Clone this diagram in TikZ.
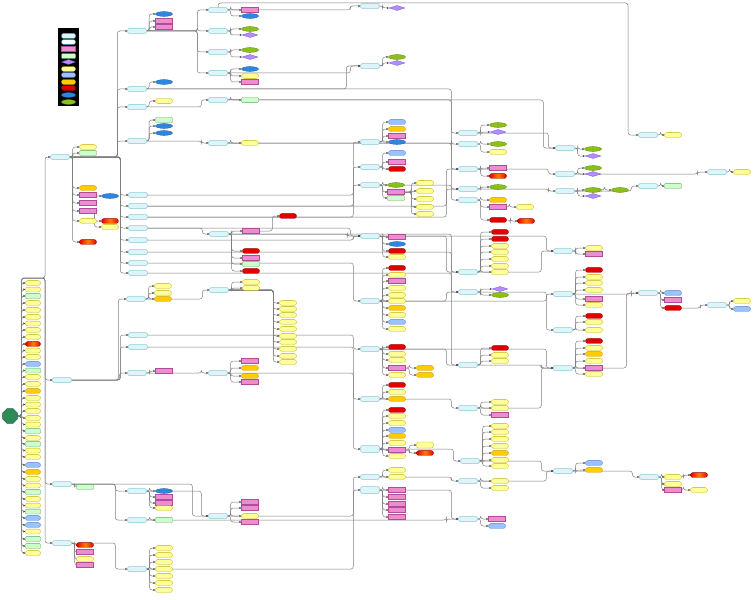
\documentclass[tikz,border=0pt]{standalone}
\usetikzlibrary{arrows.meta,shapes.geometric}
\definecolor{catfill}{HTML}{DDF5F8}
\definecolor{catline}{HTML}{3A9FB0}
\definecolor{yfill}{HTML}{FFFF99}
\definecolor{yline}{HTML}{C2B000}
\definecolor{gfill}{HTML}{CCFFCC}
\definecolor{gline}{HTML}{5FA85F}
\definecolor{pfill}{HTML}{EE8CD0}
\definecolor{pline}{HTML}{B04C98}
\definecolor{bfill}{HTML}{99C2FF}
\definecolor{bline}{HTML}{4C7FCC}
\definecolor{ofill}{HTML}{FFCC00}
\definecolor{oline}{HTML}{C89A00}
\definecolor{rfill}{HTML}{E00000}
\definecolor{rline}{HTML}{A00000}
\definecolor{ebfill}{HTML}{2E86DE}
\definecolor{ebline}{HTML}{1A5DA6}
\definecolor{egfill}{HTML}{8CBF1A}
\definecolor{egline}{HTML}{5A8A00}
\definecolor{pufill}{HTML}{B48CFF}
\definecolor{puline}{HTML}{7A55C8}
\definecolor{rootfill}{HTML}{2E8B57}
\definecolor{wire}{HTML}{7E7E7E}
\pgfdeclarelayer{bg}
\pgfsetlayers{bg,main}
% children of a node, stacked in one column (links drawn later)
\def\allkids{}
\newcommand{\kids}[4]{%
  \foreach \yy/\st [count=\k] in {#3}{%
    \node[\st] (#1-\k) at (#2,\yy) {};
    \xdef\kidn{\k}%
  }%
  \ifx\allkids\empty\xdef\allkids{#1/#4/\kidn}\else\xdef\allkids{\allkids,#1/#4/\kidn}\fi}
% long link between two nodes
\newcommand{\conn}[3][7]{%
  \draw[link] (#2.east) -| ([xshift=-#1pt]#3.west) -- (#3.west);}
\begin{document}
\begin{tikzpicture}[x=1pt, y=-1pt,
  base/.style={draw, line width=0.3pt, inner sep=0pt, minimum width=17pt, minimum height=4.8pt},
  cat/.style={base, rounded corners=1.5pt, fill=catfill, draw=catline, minimum width=19pt, minimum height=5pt},
  yl/.style={base, rounded corners=2.2pt, fill=yfill, draw=yline},
  gl/.style={base, rounded corners=0.8pt, fill=gfill, draw=gline},
  pk/.style={base, fill=pfill, draw=pline},
  lb/.style={base, rounded corners=2.2pt, fill=bfill, draw=bline},
  ol/.style={base, rounded corners=2.2pt, fill=ofill, draw=oline},
  rd/.style={base, rounded corners=2.2pt, fill=rfill, draw=rline},
  gr/.style={base, rounded corners=2.2pt, draw=rline, left color=rfill, right color=rfill, middle color=orange},
  eb/.style={base, ellipse, fill=ebfill, draw=ebline},
  eg/.style={base, ellipse, fill=egfill, draw=egline},
  pu/.style={base, diamond, aspect=4, fill=pufill, draw=puline, minimum width=16pt, minimum height=5pt},
  wt/.style={base, rounded corners=2.2pt, fill=white, draw=catline},
  root/.style={regular polygon, regular polygon sides=8, minimum size=16pt, inner sep=0pt, fill=rootfill, draw=rootfill!70!black},
  link/.style={draw=wire, line width=0.5pt, rounded corners=2.5pt, -{Stealth[length=2.2pt,width=2pt,color=black!75]}},
]
\useasboundingbox (0,0) rectangle (754,599);

% legend
\node[fill=black, minimum width=21pt, minimum height=78pt, inner sep=0pt] (legend) at (68.5,67) {};
\foreach \yy/\st in {36/cat,42/wt,49/pk,56/gl,62/pu,69/yl,75/lb,82/ol,88/rd,95/eb,102/eg}
  \node[\st, minimum width=14pt] (key-\yy) at (68.5,\yy) {};

% root and its own leaves
\node[root] (R) at (10,416) {};
\foreach \yy/\st [count=\k] in {283/yl,289.5/yl,296/gl,303/yl,310/yl,317/yl,323.5/yl,330/yl,337/yl,344/gr,350.5/yl,357/yl,364/lb,370.5/gl,377/yl,384/yl,391/ol,398/yl,404.5/yl,411/yl,418/yl,424.5/yl,431/gl,438/yl,444/gl,450.5/yl,457/yl,465/lb,472/ol,479/yl,485.5/yl,492/gl,499/yl,505.5/yl,511.5/gl,518/lb,525/lb,531.5/yl,539/gl,546/gl,553/yl}
  \node[\st, minimum width=15pt] (L\k) at (33,\yy) {};

% main branches
\node[cat] (C1) at (60,157) {};
\node[cat] (C2) at (62,380) {};
\node[cat] (C3) at (62,484) {};
\node[cat] (C4) at (62,543) {};

% second level
\node[cat] (A1) at (137,31) {};
\node[cat] (A2) at (137,89) {};
\node[cat] (A3) at (137,107) {};
\node[cat] (A4) at (137,141) {};
\foreach \yy [count=\k] in {195,206,217,228,240,252,263,273}
  \node[cat] (M\k) at (138,\yy) {};
\node[cat] (M9) at (136,299) {};
\node[cat] (M10) at (138,335) {};
\node[cat] (M11) at (138,347) {};
\node[cat] (M12) at (137,373) {};
\node[cat] (H1) at (137,491) {};
\node[cat] (H2) at (137,520) {};
\node[cat] (H3) at (137,569) {};

% third level
\node[cat] (B1) at (218,10) {};
\node[cat] (B2) at (218,31) {};
\node[cat] (B3) at (218,52) {};
\node[cat] (B4) at (218,73) {};
\node[cat] (B5) at (218,100) {};
\node[cat] (B6) at (218,143) {};
\node[cat] (N1) at (219,234) {};
\node[cat] (N2) at (219,290) {};
\node[cat] (N3) at (218,373) {};
\node[cat] (N4) at (218,516) {};

\node[cat] (D1) at (370,6) {};
\node[cat] (D2) at (370,66) {};
\node[cat] (Q1) at (370,142) {};
\node[cat] (Q2) at (370,167) {};
\node[cat] (Q3) at (370,185) {};
\node[cat] (Q4) at (370,236) {};
\node[cat] (Q5) at (370,301) {};
\node[cat] (Q6) at (370,349) {};
\node[cat] (Q7) at (370,399) {};
\node[cat, minimum height=7pt] (Q8) at (370,449) {};
\node[cat] (Q9) at (370,477) {};
\node[cat, minimum height=7pt] (Q10) at (370,490) {};

\node[cat] (S1) at (468,133) {};
\node[cat] (S2) at (468,144) {};
\node[cat] (S3) at (468,169) {};
\node[cat] (S4) at (468,189) {};
\node[cat] (S5) at (468,200) {};
\node[cat] (S6) at (468,272) {};
\node[cat] (S7) at (468,292) {};
\node[cat] (S8) at (468,365) {};
\node[cat] (S9) at (468,408) {};
\node[cat] (S10) at (470,461) {};
\node[cat] (S11) at (468,481) {};
\node[cat] (S12) at (468,519) {};

\node[cat] (F1) at (565,148) {};
\node[cat] (F2) at (565,174) {};
\node[cat] (F3) at (565,191) {};
\node[cat] (T1) at (563,251) {};
\node[cat] (T2) at (563,294) {};
\node[cat] (T3) at (563,330) {};
\node[cat] (T4) at (563,368) {};
\node[cat] (T5) at (563,471) {};

\node[cat] (E1) at (648,135) {};
\node[cat] (E2) at (648,186) {};
\node[cat] (E3) at (648,293) {};
\node[cat] (E4) at (649,477) {};
\node[cat] (G1) at (717,172) {};
\node[cat] (G2) at (717,305) {};

% leaves
\kids{C1}{88}{147/yl,153/gl,188/ol,195/pk,203/pk,211/pk,221/yl,242/gr}{3}
\node[eb] (X1) at (110,196) {};
\node[gr] (X2) at (110,221) {};
\node[yl] (X3) at (110,227) {};
\kids{A1}{164}{14/eb,21/pk,27/pk}{2.5}
\kids{A2}{164}{82/eb}{2.5}
\kids{A3}{164}{101/yl}{2.5}
\kids{A4}{164}{120/gl,126/eb,133/eb}{2.5}
\kids{B1}{250}{10/pk,16/eb}{3}
\kids{B2}{250}{29/eg,35/pu}{3}
\kids{B3}{250}{50/eg,57/pu}{3}
\kids{B4}{250}{69/eb,76/yl,82/pk}{3}
\kids{B5}{250}{100/gl}{3}
\kids{B6}{250}{143/yl}{3}
\kids{D1}{397}{8/pu}{3}
\kids{D2}{397}{57/eg,63/pu}{3}
\kids{M9}{163}{286/yl,293/yl,299/ol}{3}
\kids{M12}{164}{371/pk}{3}
\kids{N1}{251}{231/pk,251/rd,258/pk,264/gl,271/rd}{3}
\node[rd] (X4) at (288,216) {};
\kids{N2}{251}{282/yl,288/yl}{3}
\foreach \yy [count=\k] in {303,309,315,322,329,336,342,349,356,362}
  \node[yl] (V\k) at (288,\yy) {};
\kids{N3}{250}{361/pk,368/ol,376/ol,382/pk}{3}
\kids{N4}{250}{502/pk,508/pk,516/yl,522/pk}{3}
\kids{Q1}{397}{122/lb,129/ol,136/pk,142/eb}{3}
\kids{Q2}{397}{153/lb,162/pk,169/rd}{3}
\kids{Q3}{396}{185/eg,192/pk,198/gl}{3}
\foreach \yy [count=\k] in {183,191,199,207,214}
  \node[yl] (W\k) at (425,\yy) {};
\kids{Q4}{397}{237/pk,244/eb,251/rd,257/yl}{3}
\kids{Q5}{397}{268/rd,275/yl,281/pk,288/yl,295/yl,301/yl,308/ol,315/yl,322/lb,329/yl}{3}
\kids{Q6}{397}{347/rd,354/yl,360/yl,368/pk,375/yl}{3}
\node[ol] (X5) at (425,368) {};
\node[ol] (X6) at (425,375) {};
\kids{Q7}{397}{385/rd,392/yl,399/ol}{3}
\kids{Q8}{397}{410/rd,416/yl,423/yl,430/lb,436/ol,443/yl,450/pk,456/yl}{3}
\node[yl, minimum height=6pt] (X7) at (425,445) {};
\node[gr] (X8) at (425,453) {};
\kids{Q9}{397}{470/yl,477/yl}{3}
\kids{Q10}{397}{490/pk,497/pk,504/pk,510/pk,517/pk}{3}
\kids{S1}{498}{125/eg,132/pu}{3}
\kids{S2}{498}{144/eg,152/yl}{3}
\kids{S3}{498}{168/pk,176/gr}{3}
\kids{S4}{498}{187/eg}{3}
\kids{S5}{498}{200/ol,207/pk,220/rd}{3}
\node[yl] (X9) at (525,207) {};
\node[gr] (X10) at (526,221) {};
\kids{S6}{500}{232/rd,239/rd,246/yl,252/yl,259/yl,266/yl,272/yl}{3}
\kids{S7}{500}{289/pu,295/eg}{3}
\kids{S8}{500}{348/rd,355/yl,361/yl}{3}
\kids{S9}{500}{402/yl,408/yl,415/pk}{3}
\kids{S10}{500}{426/yl,432/yl,439/yl,446/yl,453/ol,460/yl,466/yl}{3}
\kids{S11}{500}{481/yl,488/yl}{3}
\kids{S12}{497}{519/pk,526/lb}{3}
\kids{F1}{593}{149/eg,156/pu}{3}
\kids{F2}{593}{168/eg,174/pu}{3}
\kids{F3}{593}{190/eg,196/pu}{3}
\node[eg] (X11) at (620,190) {};
\kids{T1}{594}{248/yl,254/pk}{3}
\kids{T2}{594}{270/rd,277/yl,283/yl,290/yl,299/pk,305/yl}{3}
\kids{T3}{594}{316/rd,322/yl,330/yl}{3}
\kids{T4}{594}{341/rd,348/yl,354/ol,361/yl,368/pk,374/yl}{3}
\kids{T5}{594}{463/lb,470/ol}{3}
\kids{E1}{673}{135/yl}{3}
\kids{E2}{673}{186/gl}{3}
\kids{E3}{673}{293/lb,300/pk,308/rd}{3}
\kids{E4}{673}{477/yl,484/yl,490/pk}{3}
\node[gr] (X12) at (699,475) {};
\node[yl] (X13) at (699,490) {};
\kids{G1}{742}{172/yl}{3}
\kids{G2}{742}{301/yl,309/lb}{3}
\kids{C3}{85}{487/gl}{3}
\kids{C4}{85}{545/gr,552/pk,559/yl,565/pk}{3}
\kids{H1}{164}{491/eb,497/pk,503/pk,508/yl}{3}
\kids{H2}{164}{520/gl}{3}
\kids{H3}{164}{548/yl,555/yl,562/yl,569/yl,576/yl,583/yl,590/yl}{3}

% all connectors, behind the nodes
\begin{pgfonlayer}{bg}
\fill[white] (0,0) rectangle (754,599);
\foreach \k in {1,...,41}
  \draw[link] (R.east) -- ++(4,0) |- (L\k.west);
\foreach \c in {C1,C2,C3,C4}
  \draw[link] (R.east) -- ++(4,0) |- (45,278) |- (\c.west);
\foreach \p/\s/\n in \allkids {%
  \foreach \k in {1,...,\n}
    \draw[link] (\p.east) -- ++(\s,0) |- (\p-\k.west);
}
\conn[10]{C1}{A1} \conn[10]{C1}{A2} \conn[10]{C1}{A3} \conn[10]{C1}{A4}
\foreach \k in {1,...,8}{\conn[8]{C1}{M\k}}
\conn{C1-4}{X1} \conn{C1-6}{X2} \conn{C1-6}{X3}
\conn[11]{A1}{B1} \conn[11]{A1}{B2} \conn[11]{A1}{B3} \conn[11]{A1}{B4}
\conn{A3}{B5} \conn{A4}{B6}
\conn[10]{B1}{D1} \conn[10]{B4}{D2} \conn[14]{A2}{D2}
\draw[link] (B1.north) |- (628,3) |- (E1.west);
\foreach \c in {M9,M10,M11,M12}{\conn[8]{C2}{\c}}
\conn[12]{C3}{H1} \conn[12]{C3}{H2} \conn[12]{C4}{H3} \conn[16]{C3}{N4}
\conn{M1}{Q1} \conn{M2}{Q2} \conn{M3}{Q3} \conn{M4}{N1} \conn{M5}{Q4}
\conn{M6}{S6} \conn{M7}{Q5} \conn{M8}{S7}
\conn{M9}{N2} \conn{M10}{Q6} \conn{M11}{Q7} \conn{M12}{N3}
\conn[12]{M2}{S3} \conn[12]{M3}{S4} \conn[10]{M4}{Q4} \conn[13]{N1}{Q4}
\conn{N1-1}{X4}
\foreach \k in {1,...,10}{\conn[6]{N2}{V\k}}
\foreach \k in {1,...,5}{\conn[5]{Q3-2}{W\k}}
\conn{Q6-4}{X5} \conn{Q6-4}{X6}
\conn{Q8-7}{X7} \conn{Q8-7}{X8}
\conn{B5}{S1} \conn{B6}{S2} \conn{B6}{S3} \conn{A2}{S4} \conn{Q3}{S5}
\conn[12]{B5}{F1}
\conn{S5-2}{X9} \conn{S5-3}{X10}
\conn{S1}{F1} \conn{S3}{F2} \conn{S4}{F3} \conn{F3-1}{X11}
\conn{F3}{E2} \conn[10]{F2}{G1}
\conn{Q4}{T1} \conn{Q5}{T2} \conn{S7}{T3} \conn{Q6}{T4} \conn{N1}{S8}
\conn[12]{Q4}{S6} \conn[12]{Q5}{S7} \conn[12]{Q6}{S8}
\conn[12]{S6}{T1} \conn[12]{S8}{T4} \conn[12]{S9}{T4} \conn[12]{S10}{T5}
\conn{T2}{E3} \conn[12]{T4}{E3} \conn{E3-3}{G2}
\conn{Q7}{S9} \conn{Q8}{S10} \conn{Q9}{S11} \conn{Q10}{S12}
\conn{S11}{T5} \conn{T5}{E4}
\conn{E4-1}{X12} \conn{E4-3}{X13}
\conn{H1}{N4} \conn{N3}{Q8} \conn{N4}{Q10} \conn{H3}{Q9} \conn[12]{H2}{S12}
\end{pgfonlayer}
\end{tikzpicture}
\end{document}
